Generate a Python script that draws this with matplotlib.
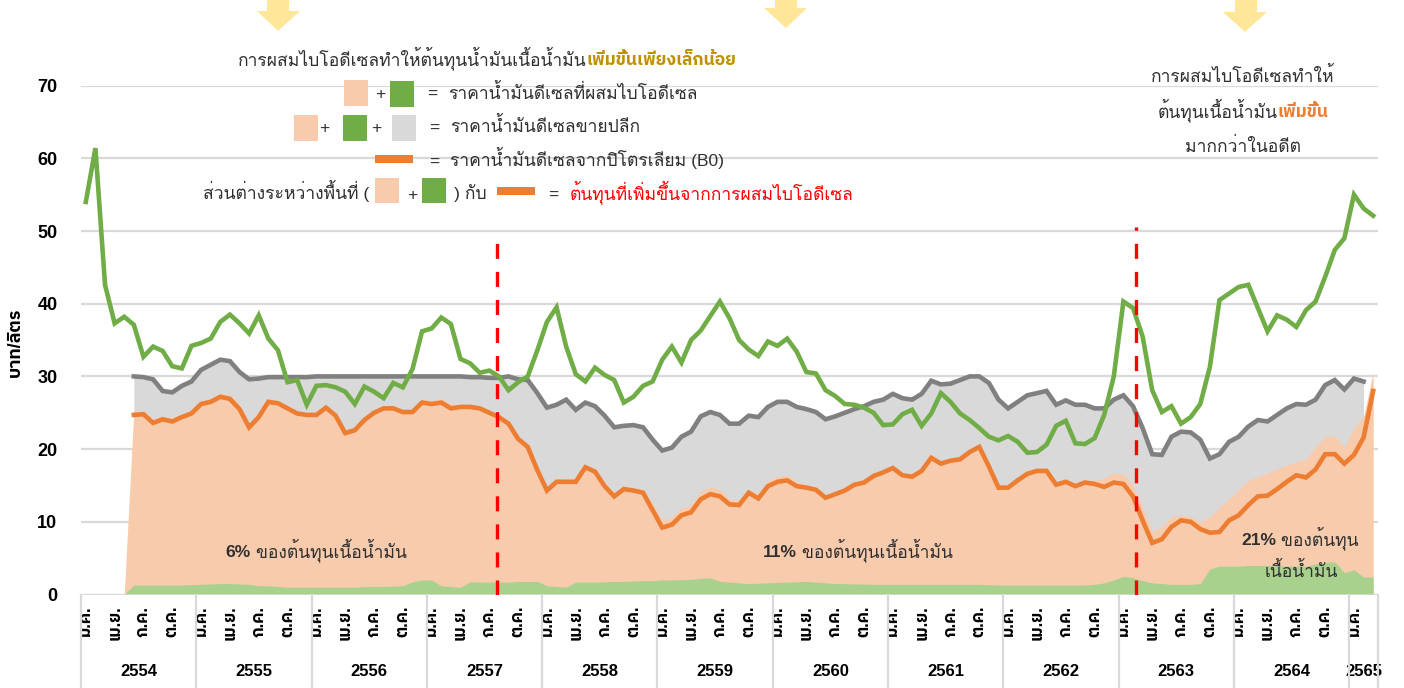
import numpy as np
import matplotlib
matplotlib.use("Agg")
import matplotlib.pyplot as plt
from matplotlib import font_manager as fm
from matplotlib.ft2font import FT2Font
from matplotlib.patches import Rectangle, Polygon

nan = float("nan")

# ---------------- data (baht / litre, monthly Jan 2554 - Mar 2565) ----------------
years = ["2554", "2555", "2556", "2557", "2558", "2559", "2560",
         "2561", "2562", "2563", "2564", "2565"]
month_labels = ["ม.ค.", "เม.ย.", "ก.ค.", "ต.ค."]

b100_price = [
    54.0, 61.4, 42.6, 37.3, 38.2, 37.1, 32.7, 34.1, 33.5, 31.4, 31.1, 34.2,
    34.6, 35.2, 37.5, 38.5, 37.3, 35.9, 38.4, 35.2, 33.6, 29.2, 29.5, 26.1,
    28.7, 28.8, 28.5, 27.9, 26.2, 28.6, 27.9, 27.0, 29.1, 28.5, 31.0, 36.2,
    36.6, 38.1, 37.2, 32.4, 31.8, 30.5, 30.8, 30.0, 28.1, 29.2, 30.0, 33.6,
    37.5, 39.5, 34.1, 30.3, 29.3, 31.2, 30.2, 29.5, 26.4, 27.2, 28.7, 29.3,
    32.3, 34.1, 31.9, 35.0, 36.3, 38.3, 40.3, 38.0, 35.0, 33.7, 32.8, 34.8,
    34.2, 35.2, 33.4, 30.6, 30.4, 28.1, 27.3, 26.2, 26.1, 25.7, 25.0, 23.3,
    23.4, 24.8, 25.4, 23.2, 24.9, 27.7, 26.5, 24.9, 24.0, 22.9, 21.7, 21.2,
    21.8, 21.0, 19.5, 19.6, 20.6, 23.2, 23.9, 20.8, 20.7, 21.5, 24.7, 30.0,
    40.3, 39.4, 35.5, 28.1, 25.1, 25.9, 23.5, 24.4, 26.2, 31.3, 40.5, 41.4,
    42.3, 42.6, 39.4, 36.2, 38.4, 37.8, 36.8, 39.1, 40.3, 43.7, 47.4, 49.0,
    55.0, 53.1, 52.1]

retail_price = [
    nan, nan, nan, nan, nan, 30.0, 29.9, 29.6, 28.0, 27.8, 28.7, 29.3,
    30.9, 31.6, 32.3, 32.1, 30.6, 29.6, 29.7, 29.9, 29.9, 29.9, 29.9, 29.9,
    30.0, 30.0, 30.0, 30.0, 30.0, 30.0, 30.0, 30.0, 30.0, 30.0, 30.0, 30.0,
    30.0, 30.0, 30.0, 30.0, 29.9, 29.9, 29.8, 29.8, 30.0, 29.6, 29.5, 27.7,
    25.7, 26.1, 26.8, 25.4, 26.4, 25.9, 24.6, 23.0, 23.2, 23.3, 23.0, 21.3,
    19.8, 20.2, 21.7, 22.4, 24.5, 25.1, 24.7, 23.5, 23.5, 24.6, 24.4, 25.8,
    26.5, 26.5, 25.8, 25.5, 25.1, 24.1, 24.5, 25.0, 25.5, 25.9, 26.5, 26.8,
    27.6, 27.0, 26.8, 27.6, 29.4, 28.9, 29.0, 29.5, 30.0, 30.0, 29.1, 26.8,
    25.6, 26.5, 27.4, 27.7, 28.0, 26.1, 26.7, 26.1, 26.1, 25.6, 25.6, 26.8,
    27.4, 25.9, 22.9, 19.3, 19.2, 21.7, 22.4, 22.3, 21.3, 18.7, 19.3, 21.0,
    21.7, 23.1, 24.0, 23.8, 24.7, 25.6, 26.2, 26.1, 26.8, 28.8, 29.5, 28.2,
    29.7, 29.3, nan]

b0_price = [
    nan, nan, nan, nan, nan, 24.7, 24.8, 23.6, 24.1, 23.8, 24.4, 24.9,
    26.2, 26.5, 27.2, 26.9, 25.5, 23.0, 24.4, 26.5, 26.3, 25.6, 24.9, 24.7,
    24.7, 25.7, 24.6, 22.2, 22.6, 24.0, 25.0, 25.6, 25.6, 25.1, 25.1, 26.4,
    26.2, 26.4, 25.6, 25.8, 25.8, 25.6, 25.0, 24.4, 23.5, 21.4, 20.3, 17.1,
    14.3, 15.5, 15.5, 15.5, 17.5, 16.9, 14.9, 13.5, 14.5, 14.3, 14.0, 11.6,
    9.2, 9.6, 10.9, 11.3, 13.1, 13.8, 13.5, 12.4, 12.3, 14.0, 13.2, 14.9,
    15.5, 15.7, 14.9, 14.7, 14.4, 13.3, 13.8, 14.3, 15.1, 15.4, 16.3, 16.8,
    17.4, 16.4, 16.2, 17.0, 18.8, 18.0, 18.4, 18.6, 19.6, 20.3, 17.6, 14.7,
    14.7, 15.7, 16.6, 17.0, 17.0, 15.1, 15.5, 14.9, 15.4, 15.2, 14.8, 15.4,
    15.2, 13.5, 10.2, 7.1, 7.6, 9.3, 10.2, 10.0, 9.0, 8.5, 8.6, 10.2,
    10.9, 12.3, 13.5, 13.6, 14.5, 15.5, 16.4, 16.1, 17.2, 19.3, 19.3, 18.0,
    19.2, 21.6, 28.0]

blended_price = [
    nan, nan, nan, nan, 0.0, 25.3, 25.2, 24.1, 24.6, 24.2, 24.7, 25.4,
    26.6, 26.9, 27.7, 27.5, 26.1, 23.6, 25.1, 26.9, 26.7, 25.8, 25.1, 24.8,
    24.9, 25.9, 24.8, 22.5, 22.8, 24.2, 25.1, 25.7, 25.8, 25.3, 25.4, 26.9,
    26.7, 27.0, 26.2, 26.1, 26.1, 25.9, 25.3, 24.7, 23.8, 21.7, 20.6, 17.5,
    14.7, 16.0, 15.9, 15.8, 17.8, 17.3, 15.3, 13.9, 14.9, 14.7, 14.5, 12.5,
    10.2, 10.6, 11.9, 12.3, 14.1, 14.8, 14.5, 13.1, 13.0, 14.5, 13.8, 15.6,
    16.2, 16.4, 15.5, 15.1, 14.8, 13.7, 14.1, 14.6, 15.4, 15.7, 16.6, 17.1,
    17.7, 16.7, 16.5, 17.3, 19.1, 18.4, 18.7, 18.9, 19.9, 20.6, 17.9, 15.0,
    15.0, 16.0, 16.9, 17.3, 17.3, 15.5, 15.9, 15.3, 15.8, 15.7, 16.0, 16.7,
    16.6, 15.0, 12.0, 8.6, 9.3, 10.7, 10.9, 10.7, 10.0, 10.7, 12.0, 13.2,
    14.4, 15.7, 16.2, 16.7, 17.3, 17.8, 18.3, 18.6, 20.3, 21.7, 21.8, 20.3,
    22.9, 24.5, 30.6]

biodiesel_cost = [
    nan, nan, nan, nan, 0.0, 1.3, 1.3, 1.3, 1.3, 1.3, 1.3, 1.35,
    1.4, 1.45, 1.5, 1.5, 1.45, 1.4, 1.2, 1.2, 1.1, 1.0, 1.0, 1.0,
    1.0, 1.0, 1.0, 1.0, 1.0, 1.1, 1.1, 1.1, 1.15, 1.2, 1.75, 2.0,
    2.0, 1.2, 1.1, 1.0, 1.75, 1.7, 1.7, 1.7, 1.7, 1.8, 1.8, 1.8,
    1.2, 1.1, 1.0, 1.7, 1.7, 1.7, 1.75, 1.8, 1.8, 1.85, 1.9, 1.9,
    2.0, 2.0, 2.05, 2.1, 2.2, 2.3, 1.8, 1.7, 1.6, 1.5, 1.55, 1.6,
    1.65, 1.7, 1.75, 1.8, 1.7, 1.6, 1.5, 1.5, 1.45, 1.45, 1.4, 1.4,
    1.4, 1.4, 1.4, 1.4, 1.4, 1.4, 1.4, 1.4, 1.4, 1.4, 1.35, 1.3,
    1.3, 1.3, 1.3, 1.3, 1.3, 1.3, 1.3, 1.3, 1.3, 1.4, 1.6, 2.0,
    2.5, 2.3, 1.9, 1.6, 1.5, 1.4, 1.4, 1.4, 1.5, 3.5, 3.9, 3.9,
    3.9, 4.0, 4.0, 4.0, 4.0, 3.9, 3.9, 3.9, 4.2, 4.4, 4.5, 3.0,
    3.4, 2.4, 2.4]

# ---------------- fonts ----------------
def thai_families():
    fams = []
    for f in fm.fontManager.ttflist:
        try:
            if FT2Font(f.fname).get_char_index(0x0E01) and f.name not in fams:
                fams.append(f.name)
        except Exception:
            pass
    return fams

TH = thai_families()
reg_thai = [f for f in ["Loma", "Noto Sans Thai Looped", "Noto Sans Thai"] if f in TH]
bold_thai = [f for f in ["IBM Plex Sans Thai", "Loma", "Noto Sans Thai"] if f in TH]
FAM = ["Liberation Sans"] + reg_thai + ["DejaVu Sans"]
FAM_B = ["Liberation Sans"] + bold_thai + ["DejaVu Sans"]
plt.rcParams["font.family"] = FAM
plt.rcParams["lines.scale_dashes"] = False

# ---------------- colours ----------------
C_GREEN = "#70AD47"
C_GREEN_F = "#A9D18E"
C_GRAY = "#808080"
C_GRAY_F = "#D9D9D9"
C_ORANGE = "#ED7D31"
C_PEACH = "#F8CBAD"
C_GRID = "#D9D9D9"
C_TEXT = "#303030"
C_GOLD = "#BF9000"

W, H = 1404, 688
fig = plt.figure(figsize=(W / 100, H / 100), dpi=100)
x_left, x_right, y_zero, y_top = 81, 1378, 594.5, 85.6
ax = fig.add_axes([x_left / W, (H - y_zero) / H, (x_right - x_left) / W, (y_zero - y_top) / H])

n = len(b100_price)
x = np.arange(n)
b100 = np.array(b100_price)
retail = np.array(retail_price)
b0 = np.array(b0_price)
blend = np.array(blended_price)
bio = np.array(biodiesel_cost)

ax.fill_between(x, 0, retail, color=C_GRAY_F, lw=0, zorder=1)
ax.fill_between(x, 0, blend, color=C_PEACH, lw=0, zorder=2)
ax.fill_between(x, 0, bio, color=C_GREEN_F, lw=0, zorder=3)
ax.plot(x, b0, color=C_ORANGE, lw=3.3, zorder=5, solid_joinstyle="miter")
ax.plot(x, retail, color=C_GRAY, lw=3.3, zorder=6, solid_joinstyle="miter")
ax.plot(x, b100, color=C_GREEN, lw=3.3, zorder=7, solid_joinstyle="miter")

# policy change markers
for xv, top in [(42.77, 48.5), (109.3, 50.6)]:
    ax.plot([xv, xv], [0, top], color="#FF0000", lw=2.4, dashes=(10.8, 9.4), zorder=9)

ax.set_xlim(-0.5, n - 0.5)
ax.set_ylim(0, 70)
ax.set_yticks(range(0, 71, 10))
ax.yaxis.grid(True, color=C_GRID, lw=1.6, zorder=0)
ax.set_axisbelow(True)
for s in ax.spines.values():
    s.set_visible(False)
ax.axhline(0, color=C_GRID, lw=1.8, zorder=4)
ax.tick_params(axis="y", length=0, pad=17, labelsize=13)
for t in ax.get_yticklabels():
    t.set_fontweight("bold")

tick_pos = [m for m in range(n) if m % 12 in (0, 3, 6, 9)]
ax.set_xticks(tick_pos)
ax.set_xticklabels([month_labels[(m % 12) // 3] for m in tick_pos], rotation=90,
                   fontsize=12, fontweight="bold", family=FAM_B)
ax.tick_params(axis="x", length=0, pad=8)

ax_h = y_zero - y_top
bottom_frac = -(H - y_zero) / ax_h
xt = ax.get_xaxis_transform()
bounds = [12 * k - 0.5 for k in range(12)] + [n - 0.5]
for b in bounds:
    ax.plot([b, b], [0, bottom_frac], color=C_GRID, lw=1.6, transform=xt, clip_on=False, zorder=4)
for k, yr in enumerate(years):
    cx = 12 * k + 5.5 if k < 11 else 133.0
    ax.text(cx, -(671 - y_zero) / ax_h, yr, transform=xt, ha="center", va="center",
            fontsize=12, fontweight="bold")

fig.text(15 / W, 1 - 342 / H, "บาท/ลิตร", rotation=90, ha="center", va="center",
         fontsize=13, fontweight="bold", family=FAM_B)

# ---------------- annotations ----------------
renderer = fig.canvas.get_renderer()
SIZE = 12.6

def px(xp, yp):
    return xp / W, 1 - yp / H

def rich(parts, xp, yp, ha="left", size=SIZE):
    texts, widths = [], []
    for s, kw in parts:
        opts = dict(fontsize=size, color=C_TEXT)
        opts.update(kw)
        t = fig.text(0, 0, s, va="baseline", ha="left", **opts)
        widths.append(t.get_window_extent(renderer).width)
        texts.append(t)
    total = sum(widths)
    x0 = xp - total / 2 if ha == "center" else (xp - total if ha == "right" else xp)
    for t, w in zip(texts, widths):
        t.set_position(px(x0, yp))
        x0 += w

def box(x0, y0, x1, y1, color):
    fig.add_artist(Rectangle(px(x0, y1), (x1 - x0) / W, (y1 - y0) / H,
                             transform=fig.transFigure, color=color, lw=0))

def sym(s, xc, yb, size=SIZE):
    fig.text(*px(xc, yb), s, ha="center", va="baseline", fontsize=size, color=C_TEXT)

BOLD = dict(fontweight="bold", family=FAM_B)

# arrows
for pts in [
    [(267, 0), (289, 0), (289, 11), (300, 11), (278, 31), (257, 11), (267, 11)],
    [(775, 0), (797, 0), (797, 8), (807, 8), (786, 28), (764, 8), (775, 8)],
    [(1235, 0), (1257, 0), (1257, 12), (1267, 12), (1245, 32), (1223, 12), (1235, 12)],
]:
    fig.add_artist(Polygon([px(a, b) for a, b in pts], closed=True, transform=fig.transFigure,
                           color="#FFE699", lw=0))

rich([("การผสมไบโอดีเซลทำให้ต้นทุนน้ำมันเนื้อน้ำมัน", {}),
      ("เพิ่มขึ้นเพียงเล็กน้อย", dict(color=C_GOLD, **BOLD))], 238, 65)

box(344, 80, 368, 106, C_PEACH); sym("+", 380, 99)
box(390, 81, 414, 107, C_GREEN); sym("=", 432, 99)
rich([("ราคาน้ำมันดีเซลที่ผสมไบโอดีเซล", {})], 448, 99)

box(294, 115, 318, 141, C_PEACH); sym("+", 324, 133)
box(343, 115, 367, 141, C_GREEN); sym("+", 376, 133)
box(392, 115, 416, 141, C_GRAY_F); sym("=", 434, 133)
rich([("ราคาน้ำมันดีเซลขายปลีก", {})], 450, 132)

box(375, 155, 413, 163, C_ORANGE); sym("=", 434, 167)
rich([("ราคาน้ำมันดีเซลจากปิโตรเลียม (B0)", {})], 450, 166)

rich([("ส่วนต่างระหว่างพื้นที่ (", {})], 369, 199, ha="right")
box(375, 178, 399, 203, C_PEACH); sym("+", 412, 200)
box(422, 178, 446, 203, C_GREEN)
rich([(") กับ", {})], 454, 199)
box(497, 187, 535, 195, C_ORANGE); sym("=", 553, 200)
rich([("ต้นทุนที่เพิ่มขึ้นจากการผสมไบโอดีเซล", dict(color="#FF0000"))], 570, 199)

rich([("การผสมไบโอดีเซลทำให้", {})], 1243, 82, ha="center")
rich([("ต้นทุนเนื้อน้ำมัน", {}), ("เพิ่มขึ้น", dict(color=C_ORANGE, **BOLD))],
     1243, 117, ha="center")
rich([("มากกว่าในอดีต", {})], 1243, 152, ha="center")

rich([("6%", dict(fontweight="bold")), (" ของต้นทุนเนื้อน้ำมัน", {})], 316, 557, ha="center")
rich([("11%", dict(fontweight="bold")), (" ของต้นทุนเนื้อน้ำมัน", {})], 858, 557, ha="center")
rich([("21%", dict(fontweight="bold")), (" ของต้นทุน", {})], 1300, 545, ha="center")
rich([("เนื้อน้ำมัน", {})], 1301, 577, ha="center")

fig.savefig("out.png", dpi=100)
